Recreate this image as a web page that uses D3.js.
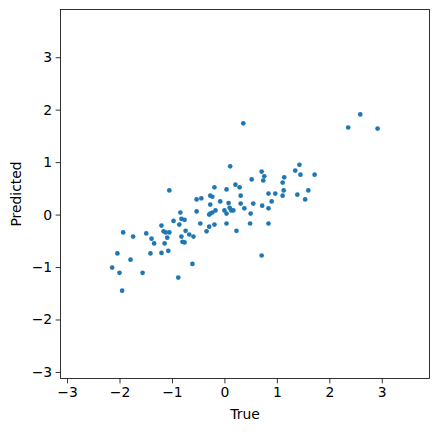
<!DOCTYPE html>
<html>
<head>
<meta charset="utf-8">
<script src="https://cdn.jsdelivr.net/npm/d3@7"></script>
<style>
html,body{margin:0;padding:0;background:#fff;}
svg text{font-family:"DejaVu Sans",sans-serif;}
</style>
</head>
<body>
<svg id="chart" width="439" height="432"></svg>
<script>
const trueVals = [-2.14,-2.04,-2.00,-1.95,-1.93,-1.79,-1.74,-1.56,-1.49,-1.41,-1.39,-1.34,-1.20,-1.20,-1.16,-1.12,-1.05,-1.14,-1.09,-1.07,
 -1.05,-0.97,-0.88,-0.86,-0.84,-0.82,-0.76,-0.82,-0.80,-0.76,-0.74,-0.67,-0.59,-0.61,-0.53,-0.44,-0.53,-0.46,-0.34,-0.29,
 -0.19,-0.27,-0.23,-0.19,-0.27,-0.29,-0.27,-0.23,-0.17,-0.08,0.00,0.04,0.08,0.10,0.13,0.17,0.04,0.04,0.11,0.21,
 0.29,0.31,0.31,0.38,0.23,0.36,0.49,0.50,0.52,0.55,0.71,0.76,0.74,0.72,0.84,0.84,0.90,0.97,0.84,0.71,
 1.14,1.11,1.13,1.11,1.39,1.35,1.43,1.45,1.60,1.54,1.72,2.36,2.59,2.92];
const predVals = [-1.01,-0.74,-1.11,-1.45,-0.34,-0.86,-0.42,-1.11,-0.36,-0.74,-0.46,-0.55,-0.21,-0.73,-0.32,-0.34,-0.34,-0.55,-0.44,-0.69,
 0.46,-0.12,-1.20,-0.19,0.04,-0.08,-0.10,-0.42,-0.52,-0.53,-0.31,-0.38,-0.42,-0.94,0.29,0.31,0.06,-0.17,-0.32,-0.23,
 -0.19,0.36,0.34,0.52,0.19,0.00,0.02,0.04,0.08,0.25,0.08,0.02,0.22,0.13,0.08,0.08,0.48,-0.17,0.92,0.57,
 0.52,0.36,0.21,0.12,-0.31,1.74,-0.17,0.02,0.67,0.21,0.82,0.73,0.65,0.17,0.12,0.40,0.25,0.40,-0.17,-0.78,
 0.71,0.61,0.46,0.36,0.38,0.84,0.95,0.76,0.46,0.29,0.76,1.66,1.91,1.64];
const xTicks = [-3,-2,-1,0,1,2,3];
const yTicks = [-3,-2,-1,0,1,2,3];
const domain = [-3.125, 3.91];

const svg = d3.select("#chart");
const mLeft = 60.5, mRight = 429.5, mTop = 9.5, mBottom = 378.5;
const x = d3.scaleLinear().domain(domain).range([mLeft, mRight]);
const y = d3.scaleLinear().domain(domain).range([mBottom, mTop]);
const fmt = d => d3.format("d")(d).replace("-", "\u2212");

const pts = trueVals.map((v,i)=>({t:v,p:predVals[i]}));
svg.append("g").selectAll("circle").data(pts).join("circle")
  .attr("cx", d=>x(d.t)).attr("cy", d=>y(d.p)).attr("r", 2.35)
  .attr("fill", "#1f77b4");

svg.append("rect").attr("x", mLeft).attr("y", mTop)
  .attr("width", mRight-mLeft).attr("height", mBottom-mTop)
  .attr("fill","none").attr("stroke","#000").attr("stroke-width",0.8);

const xa = svg.append("g").attr("transform",`translate(0,${mBottom})`)
  .call(d3.axisBottom(x).tickValues(xTicks).tickFormat(fmt).tickSize(4.9).tickPadding(3.5).tickSizeOuter(0));
const ya = svg.append("g").attr("transform",`translate(${mLeft},0)`)
  .call(d3.axisLeft(y).tickValues(yTicks).tickFormat(fmt).tickSize(4.9).tickPadding(3.5).tickSizeOuter(0));
[xa,ya].forEach(a=>{
  a.select(".domain").remove();
  a.selectAll(".tick line").attr("stroke","#000").attr("stroke-width",0.8);
  a.selectAll(".tick text").attr("fill","#000").style("font-size","13.9px").style("font-family","DejaVu Sans");
});

svg.append("text").attr("x",(mLeft+mRight)/2).attr("y",419)
  .attr("text-anchor","middle").style("font-size","13.9px").text("True");
svg.append("text").attr("transform",`translate(21,${(mTop+mBottom)/2}) rotate(-90)`)
  .attr("text-anchor","middle").style("font-size","13.9px").text("Predicted");
</script>
</body>
</html>
